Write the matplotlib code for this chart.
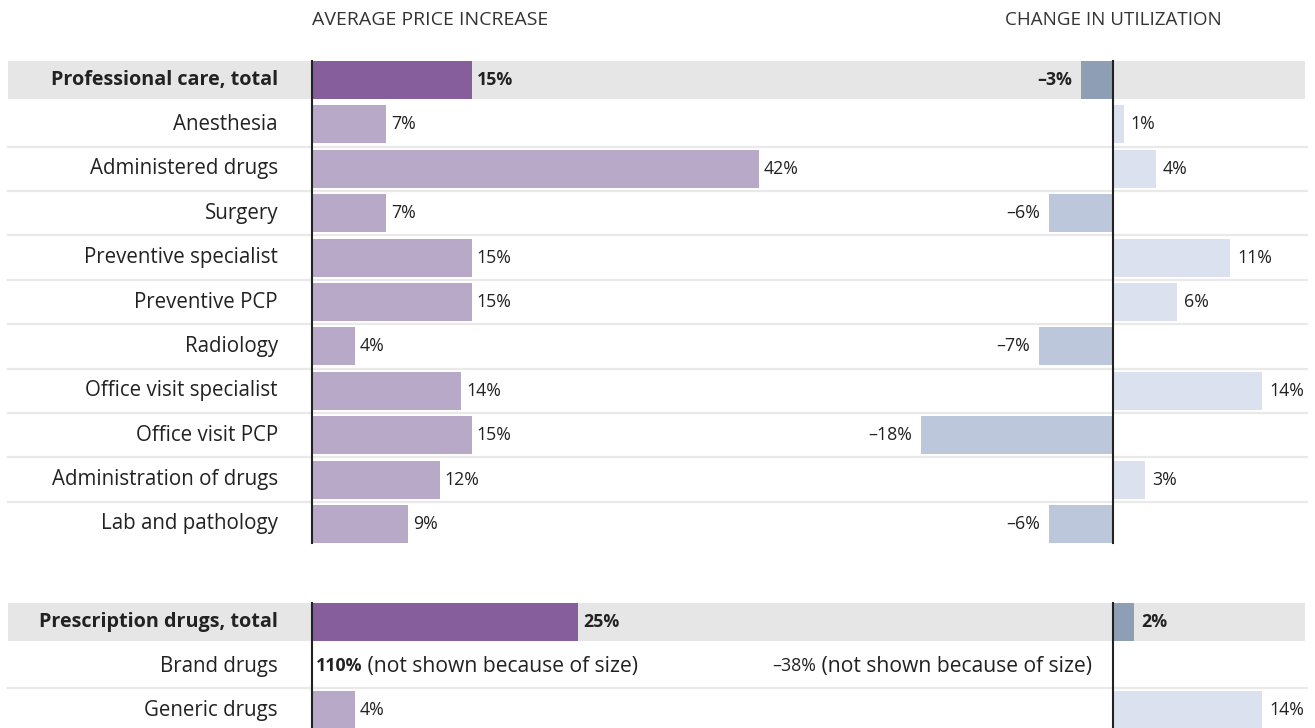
import matplotlib
matplotlib.use('Agg')
import matplotlib.pyplot as plt

plt.rcParams['font.family'] = ['Open Sans', 'DejaVu Sans']

# --- data ---
care_labels = ['Professional care, total', 'Anesthesia', 'Administered drugs', 'Surgery',
               'Preventive specialist', 'Preventive PCP', 'Radiology', 'Office visit specialist',
               'Office visit PCP', 'Administration of drugs', 'Lab and pathology']
care_price = [15, 7, 42, 7, 15, 15, 4, 14, 15, 12, 9]
care_util = [-3, 1, 4, -6, 11, 6, -7, 14, -18, 3, -6]

rx_labels = ['Prescription drugs, total', 'Brand drugs', 'Generic drugs']
rx_price = [25, 110, 4]
rx_util = [2, -38, 14]
rx_hidden = [False, True, False]   # too big to draw

# --- colours ---
c_total_price = '#865e9c'
c_price = '#b9a9c8'
c_total_util = '#8e9fb5'
c_util_neg = '#bcc7dc'
c_util_pos = '#dce1ef'
c_band = '#e6e6e6'
c_sep = '#e9e9e9'
c_text = '#222222'

W, H = 1315, 728
fig = plt.figure(figsize=(W / 100, H / 100), dpi=100)

px_per_pct = 10.64
row_px = 44.4
top_row_px = 80
price_zero_px = 312
util_zero_px = 1113

ylim = ((H - top_row_px) / row_px, -top_row_px / row_px)

bg = fig.add_axes([0, 0, 1, 1])
bg.set_xlim(0, W)
bg.set_ylim(*ylim)
ax_p = fig.add_axes([0, 0, 1, 1])
ax_p.set_xlim(-price_zero_px / px_per_pct, (W - price_zero_px) / px_per_pct)
ax_p.set_ylim(*ylim)
ax_u = fig.add_axes([0, 0, 1, 1])
ax_u.set_xlim(-util_zero_px / px_per_pct, (W - util_zero_px) / px_per_pct)
ax_u.set_ylim(*ylim)
for a in (bg, ax_p, ax_u):
    a.axis('off')
    a.patch.set_alpha(0)

bh = 0.86
fs_lab = 14.8
fs_bold = 14.2
fs_val = 12.8
fs_note = 15.2

groups = [
    (care_labels, care_price, care_util, [False] * len(care_labels), 0),
    (rx_labels, rx_price, rx_util, rx_hidden, len(care_labels) + 1.2),
]

for labels, price, util, hidden, start in groups:
    ys = [start + i for i in range(len(labels))]
    # background band for the total row and separators
    bg.barh(ys[0], W - 18, left=8, height=bh, color=c_band, zorder=0)
    for y in ys[1:-1]:
        bg.plot([8, W - 8], [y + 0.5, y + 0.5], color=c_sep, lw=1.6, zorder=0.5)

    for i, (lab, p, u, hid, y) in enumerate(zip(labels, price, util, hidden, ys)):
        total = i == 0
        wt = 'bold' if total else 'normal'
        bg.text(278, y, lab, ha='right', va='center', fontsize=fs_bold if total else fs_lab,
                fontweight=wt, color=c_text)
        if hid:
            t1 = ax_p.annotate(f'{p}%', xy=(0, y), xytext=(4, 0), textcoords='offset pixels',
                               ha='left', va='center', fontsize=fs_val, fontweight='bold',
                               color=c_text)
            ax_p.annotate(' (not shown because of size)', xy=(1, 0.5), xycoords=t1,
                          ha='left', va='center', fontsize=fs_note, color=c_text)
            t2 = ax_u.annotate(' (not shown because of size)', xy=(0, y),
                               xytext=(-21, 0), textcoords='offset pixels',
                               ha='right', va='center', fontsize=fs_note, color=c_text)
            ax_u.annotate(f'\u2013{abs(u)}%', xy=(0, 0.5), xycoords=t2,
                          ha='right', va='center', fontsize=fs_val, color=c_text)
            continue
        ax_p.barh(y, p, height=bh, color=c_total_price if total else c_price, zorder=2)
        ax_p.annotate(f'{p}%', xy=(p, y), xytext=(5, 0), textcoords='offset pixels',
                      ha='left', va='center', fontsize=fs_val, fontweight=wt, color=c_text)
        if total:
            uc = c_total_util
        else:
            uc = c_util_neg if u < 0 else c_util_pos
        ax_u.barh(y, u, height=bh, color=uc, zorder=2)
        if u < 0:
            ax_u.annotate(f'\u2013{abs(u)}%', xy=(u, y), xytext=(-9, 0),
                          textcoords='offset pixels', ha='right', va='center',
                          fontsize=fs_val, fontweight=wt, color=c_text)
        else:
            ax_u.annotate(f'{u}%', xy=(u, y), xytext=(7, 0),
                          textcoords='offset pixels', ha='left', va='center',
                          fontsize=fs_val, fontweight=wt, color=c_text)

    # zero lines
    y0, y1 = ys[0] - bh / 2, ys[-1] + bh / 2
    ax_p.plot([0, 0], [y0, y1], color='#222222', lw=1.5, zorder=3)
    ax_u.plot([0, 0], [y0, y1], color='#222222', lw=1.5, zorder=3)

ax_p.text(0, -1.35, 'AVERAGE PRICE INCREASE', ha='left', va='center',
          fontsize=14, color='#333333')
ax_u.text(0, -1.35, 'CHANGE IN UTILIZATION', ha='center', va='center',
          fontsize=13.5, color='#333333')

fig.savefig('out.png', dpi=100)
